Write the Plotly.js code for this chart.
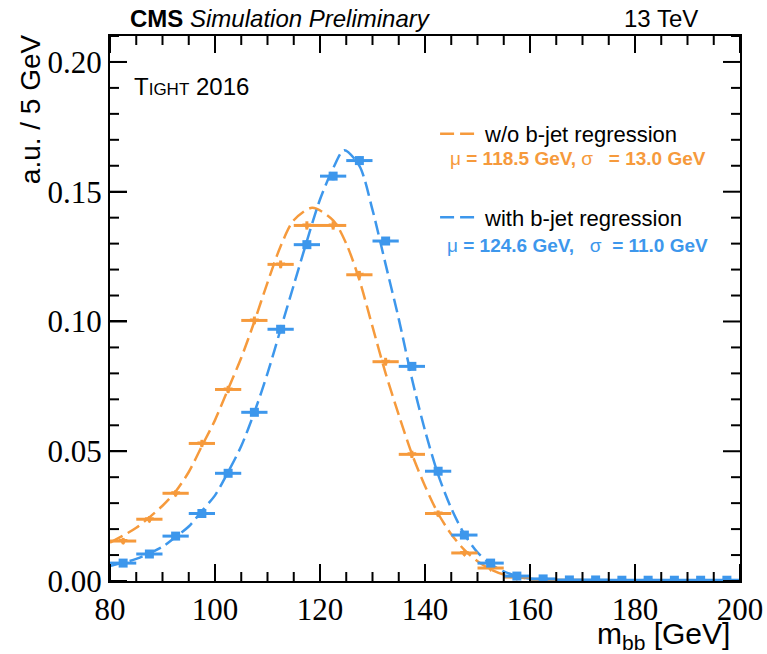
<!DOCTYPE html>
<html>
<head>
<meta charset="utf-8">
<script src="https://cdn.plot.ly/plotly-3.0.1.min.js"></script>
<style>html,body{margin:0;padding:0;background:#fff;}#plot{width:767px;height:654px;}</style>
</head>
<body>
<div id="plot"></div>
<script>
// Bin centres (5 GeV bins)
const binCenters = [82.5, 87.5, 92.5, 97.5, 102.5, 107.5, 112.5, 117.5, 122.5, 127.5, 132.5, 137.5,
                    142.5, 147.5, 152.5, 157.5, 162.5, 167.5, 172.5, 177.5, 182.5, 187.5, 192.5, 197.5];
// w/o b-jet regression (orange) histogram
const noRegValues = [0.0154, 0.0238, 0.0338, 0.0530, 0.0738, 0.1004, 0.1220, 0.1370, 0.1370, 0.1180, 0.0845, 0.0488,
                     0.0260, 0.0108, 0.0050, 0.0015, 0.0006, 0.0003, 0.0002, 0.0001, 0.0001, 0.0001, 0.0001, 0.0001];
// with b-jet regression (blue) histogram
const regValues = [0.0069, 0.0104, 0.0173, 0.0260, 0.0415, 0.0650, 0.0970, 0.1296, 0.1560, 0.1620, 0.1310, 0.0827,
                   0.0423, 0.0177, 0.0069, 0.0019, 0.0008, 0.0004, 0.0004, 0.0003, 0.0003, 0.0003, 0.0003, 0.0003];
const yErrNoReg = [0.0012, 0.0012, 0.0012, 0.0014, 0.0014, 0.0015, 0.0015, 0.0016, 0.0016, 0.0015, 0.0015, 0.0014,
                   0.0012, 0.0010, 0.0008, 0.0005, 0.0003, 0.0002, 0.0002, 0.0001, 0.0001, 0.0001, 0.0001, 0.0001];
const yErrReg = [0.0010, 0.0010, 0.0011, 0.0012, 0.0013, 0.0014, 0.0015, 0.0016, 0.0016, 0.0016, 0.0015, 0.0014,
                 0.0012, 0.0010, 0.0008, 0.0005, 0.0003, 0.0002, 0.0002, 0.0001, 0.0001, 0.0001, 0.0001, 0.0001];

// Fit curves
const fitNoRegX = [80, 85, 90, 92.5, 95, 97.5, 100, 102.5, 105, 107.5, 110, 112.5, 115, 118.5, 122.5, 125, 127.5,
                   130, 132.5, 135, 137.5, 140, 142.5, 145, 147.5, 150, 152.5, 155, 160, 165, 170, 200];
const fitNoRegY = [0.0148, 0.0205, 0.0290, 0.0345, 0.0420, 0.0520, 0.0620, 0.0740, 0.0860, 0.1000, 0.1150, 0.1290,
                   0.1390, 0.1438, 0.1390, 0.1300, 0.1160, 0.0980, 0.0800, 0.0640, 0.0490, 0.0366, 0.0260, 0.0180,
                   0.0120, 0.0076, 0.0045, 0.0025, 0.0008, 0.0002, 0.0, 0.0];
const fitRegX = [80, 85, 90, 92.5, 95, 97.5, 100, 102.5, 105, 107.5, 110, 112.5, 115, 117.5, 120, 122.5, 124.6,
                 127.5, 130, 132.5, 135, 137.5, 140, 142.5, 145, 147.5, 150, 152.5, 155, 157.5, 160, 165, 170, 200];
const fitRegY = [0.0058, 0.0085, 0.0132, 0.0170, 0.0210, 0.0270, 0.0330, 0.0420, 0.0520, 0.0650, 0.0800, 0.0970,
                 0.1140, 0.1310, 0.1470, 0.1590, 0.1660, 0.1600, 0.1430, 0.1220, 0.1010, 0.0780, 0.0580, 0.0410,
                 0.0280, 0.0180, 0.0110, 0.0065, 0.0037, 0.0019, 0.0009, 0.0002, 0.0, 0.0];

// Axis ranges and tick values
const xRange = [80, 200];
const yRange = [0, 0.21];
const xMajorTicks = [80, 100, 120, 140, 160, 180, 200];
const yMajorTicks = [0.00, 0.05, 0.10, 0.15, 0.20];
const xMinorStep = 5;
const yMinorStep = 0.01;

const ORANGE = '#f69a3c';
const BLUE = '#3d97ec';
const DASH = '14px,6px';

const W = 767, H = 654;
const M = {l: 110, r: 27, t: 36, b: 73};
const plotW = W - M.l - M.r, plotH = H - M.t - M.b;
const MAJOR_LEN = 17, MINOR_LEN = 9;

const traces = [
  {
    x: fitNoRegX, y: fitNoRegY, type: 'scatter', mode: 'lines',
    line: {color: ORANGE, width: 2.5, dash: DASH, shape: 'spline', smoothing: 0.8},
    name: 'w/o b-jet regression', legendgroup: 'a', hoverinfo: 'skip'
  },
  {
    x: fitRegX, y: fitRegY, type: 'scatter', mode: 'lines',
    line: {color: BLUE, width: 2.5, dash: DASH, shape: 'spline', smoothing: 0.8},
    name: 'with b-jet regression', legendgroup: 'b', hoverinfo: 'skip'
  },
  {
    x: binCenters, y: noRegValues, type: 'scatter', mode: 'markers', showlegend: false,
    marker: {symbol: 'triangle-down', size: 8, color: ORANGE},
    error_x: {type: 'constant', value: 2.5, width: 0, thickness: 3, color: ORANGE},
    error_y: {type: 'data', array: yErrNoReg, width: 0, thickness: 3, color: ORANGE}
  },
  {
    x: binCenters, y: regValues, type: 'scatter', mode: 'markers', showlegend: false,
    marker: {symbol: 'square', size: 9, color: BLUE},
    error_x: {type: 'constant', value: 2.5, width: 0, thickness: 3, color: BLUE},
    error_y: {type: 'data', array: yErrReg, width: 0, thickness: 3, color: BLUE}
  }
];

// Frame tick marks on all four sides (ROOT style), placed on the data axes
const tickShapes = [];
const tickLine = {color: '#000', width: 2};
function isMajor(v, majors) { return majors.some(m => Math.abs(m - v) < 1e-9); }
const nX = Math.round((xRange[1] - xRange[0]) / xMinorStep);
for (let i = 0; i <= nX; i++) {
  const v = xRange[0] + i * xMinorStep;
  const len = (isMajor(v, xMajorTicks) ? MAJOR_LEN : MINOR_LEN) / plotH;
  tickShapes.push({type: 'line', xref: 'x', yref: 'paper', x0: v, x1: v, y0: 0, y1: len, line: tickLine, layer: 'above'});
  tickShapes.push({type: 'line', xref: 'x', yref: 'paper', x0: v, x1: v, y0: 1, y1: 1 - len, line: tickLine, layer: 'above'});
}
const nY = Math.round((yRange[1] - yRange[0]) / yMinorStep);
for (let i = 0; i <= nY; i++) {
  const v = +(yRange[0] + i * yMinorStep).toFixed(4);
  const len = (isMajor(v, yMajorTicks) ? MAJOR_LEN : MINOR_LEN) / plotW;
  tickShapes.push({type: 'line', xref: 'paper', yref: 'y', x0: 0, x1: len, y0: v, y1: v, line: tickLine, layer: 'above'});
  tickShapes.push({type: 'line', xref: 'paper', yref: 'y', x0: 1, x1: 1 - len, y0: v, y1: v, line: tickLine, layer: 'above'});
}

const tickFont = {family: 'Liberation Serif, Times New Roman, serif', size: 31, color: '#000'};

const layout = {
  width: W, height: H,
  margin: M,
  paper_bgcolor: '#fff', plot_bgcolor: '#fff',
  showlegend: true,
  legend: {
    x: 0.516, xanchor: 'left', y: 0.859, yanchor: 'top',
    bgcolor: 'rgba(0,0,0,0)', borderwidth: 0,
    font: {family: 'Liberation Sans, Arial, sans-serif', size: 22, color: '#000'},
    itemwidth: 40, tracegroupgap: 52
  },
  xaxis: {
    range: xRange, tickvals: xMajorTicks, ticktext: xMajorTicks.map(String),
    ticks: 'inside', ticklen: MAJOR_LEN, tickwidth: 2, tickcolor: '#000',
    showline: true, linewidth: 2, linecolor: '#000', mirror: true,
    showgrid: false, zeroline: false, tickfont: tickFont, automargin: false
  },
  yaxis: {
    range: yRange, tickvals: yMajorTicks, ticktext: yMajorTicks.map(v => v.toFixed(2)),
    ticks: 'inside', ticklen: MAJOR_LEN, tickwidth: 2, tickcolor: '#000',
    showline: true, linewidth: 2, linecolor: '#000', mirror: true,
    showgrid: false, zeroline: false, tickfont: tickFont, automargin: false
  },
  shapes: tickShapes,
  annotations: [
    {xref: 'paper', yref: 'paper', x: 0.0286, y: 1, xanchor: 'left', yanchor: 'bottom', yshift: 2,
     text: '<b>CMS</b> <i>Simulation Preliminary</i>', showarrow: false,
     font: {family: 'Liberation Sans, Arial, sans-serif', size: 24, color: '#000'}},
    {xref: 'paper', yref: 'paper', x: 0.9365, y: 1, xanchor: 'right', yanchor: 'bottom', yshift: 2,
     text: '13 TeV', showarrow: false,
     font: {family: 'Liberation Sans, Arial, sans-serif', size: 24, color: '#000'}},
    {xref: 'paper', yref: 'paper', x: 0.035, y: 0.908, xanchor: 'left', yanchor: 'middle',
     text: 'T<span style="font-size:17px">IGHT</span> 2016', showarrow: false,
     font: {family: 'Liberation Sans, Arial, sans-serif', size: 24, color: '#000'}},
    {xref: 'paper', yref: 'paper', x: 0.536, y: 0.776, xanchor: 'left', yanchor: 'middle',
     text: 'μ <b>= 118.5 GeV,</b> σ&nbsp;&nbsp;&nbsp;<b>= 13.0 GeV</b>', showarrow: false,
     font: {family: 'Liberation Sans, Arial, sans-serif', size: 19, color: ORANGE}},
    {xref: 'paper', yref: 'paper', x: 0.531, y: 0.6165, xanchor: 'left', yanchor: 'middle',
     text: 'μ <b>= 124.6 GeV,</b>&nbsp;&nbsp;&nbsp;σ&nbsp;&nbsp;<b>= 11.0 GeV</b>', showarrow: false,
     font: {family: 'Liberation Sans, Arial, sans-serif', size: 19, color: BLUE}},
    {xref: 'paper', yref: 'paper', x: -0.127, y: 1.007, xanchor: 'center', yanchor: 'top', textangle: -90,
     text: 'a.u. / 5 GeV', showarrow: false,
     font: {family: 'Liberation Sans, Arial, sans-serif', size: 28, color: '#000'}},
    {xref: 'paper', yref: 'paper', x: 0.987, y: -0.1, xanchor: 'right', yanchor: 'middle',
     text: 'm<sub>bb</sub> [GeV]', showarrow: false,
     font: {family: 'Liberation Sans, Arial, sans-serif', size: 30, color: '#000'}}
  ]
};

Plotly.newPlot('plot', traces, layout, {staticPlot: true});
</script>
</body>
</html>
